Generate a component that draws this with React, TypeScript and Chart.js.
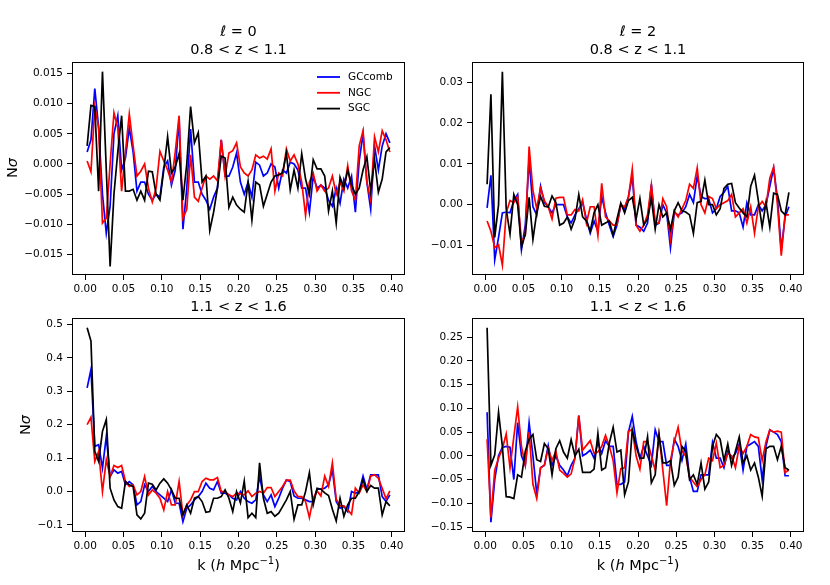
import { useEffect, useRef } from "react";
import { Chart, registerables } from "chart.js";

Chart.register(...registerables);

const W = 830;
const H = 585;
const FONT = "DejaVu Sans";

// k bins (h/Mpc)
const k = [
  0.0025, 0.0075, 0.0125, 0.0175, 0.0225, 0.0275, 0.0325, 0.0375, 0.0425, 0.0475,
  0.0525, 0.0575, 0.0625, 0.0675, 0.0725, 0.0775, 0.0825, 0.0875, 0.0925, 0.0975,
  0.1025, 0.1075, 0.1125, 0.1175, 0.1225, 0.1275, 0.1325, 0.1375, 0.1425, 0.1475,
  0.1525, 0.1575, 0.1625, 0.1675, 0.1725, 0.1775, 0.1825, 0.1875, 0.1925, 0.1975,
  0.2025, 0.2075, 0.2125, 0.2175, 0.2225, 0.2275, 0.2325, 0.2375, 0.2425, 0.2475,
  0.2525, 0.2575, 0.2625, 0.2675, 0.2725, 0.2775, 0.2825, 0.2875, 0.2925, 0.2975,
  0.3025, 0.3075, 0.3125, 0.3175, 0.3225, 0.3275, 0.3325, 0.3375, 0.3425, 0.3475,
  0.3525, 0.3575, 0.3625, 0.3675, 0.3725, 0.3775, 0.3825, 0.3875, 0.3925, 0.3975,
];
const kTicks = [0, 0.05, 0.1, 0.15, 0.2, 0.25, 0.3, 0.35, 0.4];

const seriesNames = ["GCcomb", "NGC", "SGC"];
const seriesColors = ["#0000ff", "#ff0000", "#000000"];

// l = 0, 0.8 < z < 1.1
const l0LowGC = [
  0.002, 0.004, 0.0125, 0.006, -0.005, -0.0115, -0.007, 0.005, 0.008, -0.001,
  0.001, 0.006, 0.002, -0.0045, -0.003, -0.003, -0.005, -0.006, -0.005, -0.0055,
  -0.0005, 0.0005, -0.0035, -0.001, 0.0075, -0.0108, -0.004, 0.0058, -0.003, -0.003,
  -0.005, -0.006, -0.0075, -0.0055, -0.004, 0.004, -0.002, -0.002, -0.0005, 0.0018,
  -0.003, -0.005, -0.003, -0.0055, 0.0003, -0.0002, -0.002, -0.0015, 0.0, -0.0005,
  -0.004, -0.001, -0.0015, 0.0003, 0.0, -0.001, -0.004, -0.004, -0.008, -0.002,
  -0.004, -0.0035, -0.004, -0.006, -0.007, -0.004, -0.0065, -0.0025, -0.004, -0.002,
  -0.008, 0.0005, 0.005, -0.003, -0.0075, 0.003, -0.001, 0.003, 0.005, 0.0035,
];
const l0LowNGC = [
  0.0005, -0.0013, 0.0095, 0.006, -0.0098, -0.009, 0.0, 0.0085, 0.006, -0.0045,
  0.002, 0.0083, 0.003, -0.002, -0.0012, 0.0, -0.004, -0.0063, -0.004, 0.0021,
  0.0005, -0.001, -0.003, 0.002, 0.008, -0.009, -0.0075, 0.0015, -0.0055, -0.0062,
  -0.004, -0.002, -0.0025, -0.002, -0.0028, 0.004, -0.002, 0.0018, 0.0022, 0.0035,
  -0.0005, -0.0015, -0.002, -0.001, 0.0015, 0.001, 0.0013, 0.0008, 0.0025, -0.0045,
  -0.0015, -0.002, 0.0025, 0.0005, 0.0015, 0.0, -0.003, -0.0085, -0.003, -0.0015,
  -0.0045, -0.0035, -0.0045, -0.004, -0.002, -0.005, -0.003, -0.0045, -0.0003, -0.0045,
  -0.006, 0.003, 0.0055, -0.003, -0.006, 0.0045, 0.002, 0.0055, 0.004, 0.002,
];
const l0LowSGC = [
  0.003, 0.0097, 0.0095, -0.0045, 0.0153, -0.001, -0.017, -0.005, 0.002, 0.008,
  -0.0045, -0.0045, -0.0042, -0.006, -0.0045, -0.006, -0.0012, -0.0013, -0.005, -0.006,
  -0.001, 0.0045, -0.0015, -0.0005, 0.0017, -0.006, 0.0, 0.0095, 0.0035, 0.0052,
  -0.003, -0.002, -0.011, -0.008, -0.004, 0.0013, 0.001, -0.0072, -0.0055, -0.0068,
  -0.0075, -0.008, -0.003, -0.0093, -0.003, -0.0035, -0.007, -0.005, -0.003, -0.002,
  -0.0018, -0.0015, 0.0018, -0.0043, -0.001, -0.004, 0.0017, -0.0025, -0.005, 0.0007,
  -0.0008, -0.0008, -0.002, -0.0078, -0.0045, -0.0098, -0.0022, -0.004, -0.001, -0.0035,
  -0.005, -0.004, -0.001, 0.0012, -0.0045, 0.0007, -0.0047, -0.0025, 0.002, 0.0027,
];

// l = 2, 0.8 < z < 1.1
const l2LowGC = [
  -0.0008, 0.0072, -0.0135, -0.008, -0.002, -0.0018, -0.002, 0.001, 0.0025, -0.011,
  -0.005, 0.011, -0.0005, -0.0025, 0.0045, 0.0005, -0.0005, -0.002, 0.0, 0.0,
  0.0, -0.003, -0.0045, -0.0025, -0.001, 0.0005, -0.0035, -0.007, -0.004, -0.0065,
  0.002, -0.002, -0.005, -0.0078, -0.005, 0.0, -0.001, 0.002, 0.007, -0.005,
  -0.0055, -0.0065, -0.0045, 0.005, -0.005, -0.0045, 0.0, -0.002, -0.0105, -0.002,
  -0.0025, -0.002, -0.0005, 0.0025, 0.0005, 0.007, 0.002, 0.0015, 0.0015, -0.002,
  -0.001, 0.002, 0.003, 0.0045, -0.0015, -0.0015, -0.002, -0.0055, 0.0005, -0.0025,
  -0.0025, 0.0, -0.0015, 0.0, 0.0045, 0.009, 0.0015, -0.011, -0.003, -0.0005,
];
const l2LowNGC = [
  -0.004, -0.0065, -0.0105, -0.0098, -0.0148, -0.002, 0.001, 0.0005, 0.002, -0.009,
  -0.0075, 0.0142, 0.0035, -0.001, 0.004, 0.001, -0.0005, -0.0035, 0.0016, 0.0018,
  0.0018, -0.0025, -0.0025, -0.0012, -0.0015, 0.0012, -0.0045, -0.0005, -0.0005, -0.0075,
  0.0052, -0.003, -0.004, -0.005, -0.005, 0.0, -0.0005, 0.0018, 0.0087, -0.005,
  -0.0065, -0.005, -0.0025, 0.0048, -0.0045, -0.0045, 0.0015, -0.0005, -0.0085, -0.0015,
  -0.003, -0.001, 0.001, 0.005, 0.004, 0.009, 0.0, -0.002, 0.002, 0.0015,
  -0.001, 0.0, 0.0005, 0.001, 0.0025, -0.003, -0.002, -0.001, -0.0045, -0.0005,
  -0.007, -0.0005, 0.0008, -0.0005, 0.0065, 0.0092, 0.0, -0.0125, -0.0025, -0.0025,
];
const l2LowSGC = [
  0.005, 0.027, -0.008, 0.0, 0.0325, -0.001, -0.0072, 0.0025, 0.0, -0.0104,
  -0.0072, 0.0018, -0.0085, -0.0019, 0.002, -0.0004, -0.0006, 0.0021, 0.0005, -0.005,
  -0.0045, -0.003, -0.006, -0.0035, 0.0025, -0.003, -0.004, -0.0065, -0.002, 0.0,
  -0.005, -0.0045, -0.004, -0.0075, -0.0035, 0.0004, -0.002, 0.001, 0.0018, -0.0035,
  0.0015, -0.005, -0.0035, 0.0015, -0.006, 0.0, -0.003, -0.002, -0.006, -0.0015,
  0.0005, -0.0015, -0.0018, -0.0025, -0.007, 0.0005, 0.0008, 0.006, 0.0, 0.0,
  -0.0025, -0.001, 0.004, 0.005, 0.0052, 0.0005, -0.0008, -0.002, -0.003, 0.0045,
  0.0072, 0.001, -0.0055, 0.0005, -0.0055, 0.0028, 0.0025, -0.0015, -0.0025, 0.003,
];

// l = 0, 1.1 < z < 1.6
const l0HighGC = [
  0.31, 0.365, 0.135, 0.14, 0.07, 0.165, 0.045, 0.065, 0.055, 0.06,
  0.02, 0.03, 0.02, -0.04, -0.03, 0.02, 0.0, 0.015, 0.0, -0.01,
  -0.02, -0.03, 0.005, -0.035, -0.035, -0.09, -0.05, -0.04, -0.025, -0.015,
  0.0, 0.025, 0.01, 0.005, 0.03, -0.005, -0.005, -0.01, -0.02, -0.025,
  0.0, -0.02, -0.03, -0.035, -0.025, 0.045, -0.01, -0.03, -0.01, -0.045,
  -0.02, 0.01, 0.034, 0.03, -0.013, -0.02, -0.02, -0.025, -0.03, -0.03,
  0.007, 0.007, 0.01, 0.02, 0.065, -0.03, -0.05, -0.045, -0.06, 0.0,
  -0.005, 0.0, 0.046, 0.006, 0.05, 0.05, 0.05, -0.015, -0.03, -0.01,
];
const l0HighNGC = [
  0.2, 0.222, 0.09, 0.12, 0.0, 0.095, 0.045, 0.078, 0.072, 0.078,
  0.03, 0.015, 0.02, -0.01, 0.0, 0.045, -0.01, 0.005, -0.005, -0.02,
  -0.055, 0.0, -0.04, -0.04, 0.03, -0.07, -0.04, -0.025, 0.0, 0.0,
  0.03, 0.04, 0.035, 0.035, 0.042, 0.0, 0.0, -0.01, -0.015, -0.005,
  -0.007, -0.01, 0.002, -0.015, -0.005, 0.0, -0.005, 0.012, 0.012, -0.015,
  0.0, 0.015, 0.034, 0.034, 0.002, -0.015, -0.015, -0.03, -0.078, -0.02,
  0.002, -0.013, 0.046, 0.016, 0.086, -0.023, -0.043, -0.043, -0.055, -0.068,
  0.01, -0.005, 0.02, 0.0, 0.046, 0.05, 0.04, 0.01, -0.022, 0.002,
];
const l0HighSGC = [
  0.49, 0.45, 0.12, 0.09, 0.18, 0.215, 0.01, -0.025, -0.045, -0.05,
  0.03, 0.02, 0.015, -0.07, -0.082, -0.065, 0.025, 0.022, 0.005, 0.025,
  0.038, 0.025, 0.005, -0.02, -0.02, -0.07, -0.04, -0.065, -0.02, -0.015,
  -0.03, -0.062, -0.06, -0.02, -0.02, -0.015, 0.005, -0.02, -0.06, 0.0,
  -0.034, 0.031, -0.078, -0.065, -0.078, 0.086, -0.02, -0.065, -0.06, -0.074,
  -0.065, -0.045, -0.025, 0.0, -0.083, -0.04, -0.04, 0.0, 0.056, -0.04,
  0.01, 0.007, -0.004, -0.012, -0.053, -0.088, -0.02, -0.074, -0.04, -0.02,
  -0.02, 0.0, 0.035, 0.0, 0.018, 0.01, 0.01, -0.07, -0.03, -0.043,
];

// l = 2, 1.1 < z < 1.6
const l2HighGC = [
  0.092, -0.14, -0.05, 0.0, 0.018, 0.02, 0.018, -0.05, 0.07, 0.0,
  -0.02, 0.07, 0.0, -0.08, -0.025, -0.02, 0.022, -0.02, 0.0, -0.02,
  -0.03, -0.042, -0.02, -0.005, 0.085, 0.0, 0.005, 0.012, -0.005, 0.028,
  0.005, 0.032, 0.02, 0.02, -0.06, -0.06, -0.055, 0.05, 0.083, 0.03,
  -0.005, 0.02, 0.0, -0.02, 0.055, 0.03, 0.03, -0.02, -0.02, 0.035,
  0.02, -0.01, 0.025, -0.045, -0.075, -0.075, -0.04, -0.04, -0.04, 0.028,
  -0.005, -0.005, -0.025, 0.01, -0.005, 0.005, 0.025, -0.03, 0.02, 0.025,
  0.03, 0.02, -0.05, 0.02, 0.055, 0.05, 0.045, 0.03, -0.042, -0.042,
];
const l2HighNGC = [
  0.035, -0.13, -0.03, -0.005, 0.015, 0.046, -0.025, 0.04, 0.103, 0.02,
  -0.02, 0.05, -0.06, -0.09, -0.025, -0.02, 0.015, -0.01, 0.01, -0.03,
  -0.037, -0.045, -0.038, -0.005, 0.085, 0.012, 0.022, 0.032, 0.005, 0.008,
  0.02, 0.043, 0.02, -0.01, -0.078, -0.027, -0.025, 0.052, 0.055, 0.0,
  -0.028, 0.03, 0.03, 0.0, -0.03, 0.045, -0.03, -0.105, -0.01, 0.03,
  0.06, 0.01, 0.0, -0.045, -0.055, -0.065, -0.05, -0.04, -0.005, -0.01,
  0.027, -0.025, -0.02, 0.005, 0.0, -0.025, 0.02, 0.005, 0.02, 0.045,
  0.04, 0.038, -0.01, 0.03, 0.055, 0.05, 0.052, 0.05, -0.035, -0.03,
];
const l2HighSGC = [
  0.27, -0.02, 0.002, 0.092, 0.02, -0.086, -0.087, -0.09, -0.04, -0.045,
  0.01, 0.035, 0.045, -0.008, -0.012, 0.026, 0.015, -0.04, 0.015, 0.032,
  0.008, -0.005, 0.034, 0.0, 0.014, -0.035, -0.035, -0.035, -0.028, 0.047,
  -0.03, -0.025, 0.027, 0.06, 0.008, 0.012, -0.082, -0.055, 0.055, 0.02,
  -0.005, -0.005, 0.04, -0.057, -0.04, 0.045, -0.015, -0.015, -0.01, -0.062,
  -0.045, 0.02, 0.01, -0.05, -0.04, -0.06, -0.015, -0.07, -0.055, 0.02,
  0.045, 0.035, -0.01, 0.025, -0.02, 0.01, 0.04, -0.015, 0.0, -0.03,
  -0.015, -0.045, -0.085, 0.015, 0.02, 0.02, -0.008, 0.02, -0.025, -0.03,
];

const l0LowTicks = [-0.015, -0.01, -0.005, 0, 0.005, 0.01, 0.015];
const l2LowTicks = [-0.01, 0, 0.01, 0.02, 0.03];
const l0HighTicks = [-0.1, 0, 0.1, 0.2, 0.3, 0.4, 0.5];
const l2HighTicks = [-0.15, -0.1, -0.05, 0, 0.05, 0.1, 0.15, 0.2, 0.25];

interface Panel {
  left: number;
  top: number;
  right: number;
  bottom: number;
  yMin: number;
  yMax: number;
  yTicks: number[];
  decimals: number;
  series: number[][];
  legend?: boolean;
}

const panels: Panel[] = [
  { left: 72, top: 62, right: 405, bottom: 275, yMin: -0.0184, yMax: 0.0169, yTicks: l0LowTicks, decimals: 3, series: [l0LowGC, l0LowNGC, l0LowSGC], legend: true },
  { left: 472, top: 62, right: 804, bottom: 275, yMin: -0.0172, yMax: 0.0349, yTicks: l2LowTicks, decimals: 2, series: [l2LowGC, l2LowNGC, l2LowSGC] },
  { left: 72, top: 318, right: 405, bottom: 532, yMin: -0.121, yMax: 0.519, yTicks: l0HighTicks, decimals: 1, series: [l0HighGC, l0HighNGC, l0HighSGC] },
  { left: 472, top: 318, right: 804, bottom: 532, yMin: -0.1605, yMax: 0.2905, yTicks: l2HighTicks, decimals: 2, series: [l2HighGC, l2HighNGC, l2HighSGC] },
];

const fmt = (v: number, d: number) => v.toFixed(d).replace("-", "\u2212");

const framePlugin = {
  id: "frame",
  afterDatasetsDraw(chart: any) {
    const { ctx, chartArea: a } = chart;
    ctx.save();
    ctx.strokeStyle = "#000";
    ctx.lineWidth = 1;
    ctx.strokeRect(a.left + 0.5, a.top + 0.5, a.right - a.left - 1, a.bottom - a.top - 1);
    ctx.restore();
  },
};

const legendPlugin = {
  id: "mplLegend",
  afterDatasetsDraw(chart: any) {
    const { ctx, chartArea: a } = chart;
    ctx.save();
    ctx.font = `10.5px "${FONT}"`;
    ctx.textBaseline = "middle";
    seriesNames.forEach((name, j) => {
      const y = a.top + 15 + j * 15.8;
      ctx.strokeStyle = seriesColors[j];
      ctx.lineWidth = 1.8;
      ctx.beginPath();
      ctx.moveTo(a.right - 88, y);
      ctx.lineTo(a.right - 65, y);
      ctx.stroke();
      ctx.fillStyle = "#000";
      ctx.fillText(name, a.right - 57, y);
    });
    ctx.restore();
  },
};

const Y_W = 60;
const X_H = 30;

function PanelChart({ p }: { p: Panel }) {
  const canvasRef = useRef<HTMLCanvasElement>(null);

  useEffect(() => {
    if (!canvasRef.current) return;
    const tickFont = { family: FONT, size: 10.5 };
    const chart = new Chart(canvasRef.current, {
      type: "line",
      data: {
        datasets: seriesNames.map((name, j) => ({
          label: name,
          data: k.map((x, i) => ({ x, y: p.series[j][i] })),
          borderColor: seriesColors[j],
          backgroundColor: seriesColors[j],
          borderWidth: 1.7,
          pointRadius: 0,
          tension: 0,
          fill: false,
          order: 2 - j,
        })),
      },
      options: {
        animation: false,
        responsive: false,
        events: [],
        layout: {
          padding: { left: p.left - Y_W, top: p.top, right: W - p.right, bottom: H - p.bottom - X_H },
        },
        plugins: { legend: { display: false }, tooltip: { enabled: false } },
        scales: {
          x: {
            type: "linear",
            min: -0.01725,
            max: 0.41725,
            afterBuildTicks: (s: any) => {
              s.ticks = kTicks.map((v) => ({ value: v }));
            },
            afterFit: (s: any) => {
              s.height = X_H;
              s.paddingLeft = 0;
              s.paddingRight = 0;
            },
            ticks: {
              callback: (v: any) => fmt(Number(v), 2),
              font: tickFont,
              color: "#000",
              padding: 3,
              maxRotation: 0,
              autoSkip: false,
            },
            grid: { drawOnChartArea: false, tickLength: 5, color: "#000" },
            border: { display: false },
          },
          y: {
            type: "linear",
            min: p.yMin,
            max: p.yMax,
            afterBuildTicks: (s: any) => {
              s.ticks = p.yTicks.map((v) => ({ value: v }));
            },
            afterFit: (s: any) => {
              s.width = Y_W;
              s.paddingTop = 0;
              s.paddingBottom = 0;
            },
            ticks: {
              callback: (v: any) => fmt(Number(v), p.decimals),
              font: tickFont,
              color: "#000",
              padding: 4,
              autoSkip: false,
            },
            grid: { drawOnChartArea: false, tickLength: 5, color: "#000" },
            border: { display: false },
          },
        },
      },
      plugins: p.legend ? [framePlugin, legendPlugin] : [framePlugin],
    });
    return () => chart.destroy();
  }, [p]);

  return (
    <canvas
      ref={canvasRef}
      width={W}
      height={H}
      style={{ position: "absolute", left: 0, top: 0, width: W, height: H }}
    />
  );
}

const textBase: React.CSSProperties = {
  position: "absolute",
  fontFamily: FONT,
  fontSize: 14.5,
  lineHeight: "18px",
  color: "#000",
  whiteSpace: "nowrap",
  transform: "translate(-50%, -50%)",
};

function Label({ x, y, children, rotate }: { x: number; y: number; children: any; rotate?: boolean }) {
  return (
    <div
      style={{
        ...textBase,
        left: x,
        top: y,
        transform: rotate ? "translate(-50%, -50%) rotate(-90deg)" : textBase.transform,
      }}
    >
      {children}
    </div>
  );
}

const xLabel = (
  <>
    k (<i>h</i> Mpc<sup style={{ fontSize: 10, verticalAlign: "baseline", position: "relative", top: -6 }}>{"\u22121"}</sup>)
  </>
);

export default function App() {
  useEffect(() => {
    document.body.style.margin = "0";
  }, []);

  return (
    <div style={{ position: "relative", width: W, height: H, background: "#fff", overflow: "hidden" }}>
      {panels.map((p, i) => (
        <PanelChart key={i} p={p} />
      ))}
      <Label x={238.5} y={31}>{"\u2113 = 0"}</Label>
      <Label x={238.5} y={49}>0.8 &lt; z &lt; 1.1</Label>
      <Label x={638} y={31}>{"\u2113 = 2"}</Label>
      <Label x={638} y={49}>0.8 &lt; z &lt; 1.1</Label>
      <Label x={238.5} y={306}>1.1 &lt; z &lt; 1.6</Label>
      <Label x={638} y={306}>1.1 &lt; z &lt; 1.6</Label>
      <Label x={238.5} y={566}>{xLabel}</Label>
      <Label x={638} y={566}>{xLabel}</Label>
      <Label x={12} y={168} rotate>
        N<i>σ</i>
      </Label>
      <Label x={25} y={425} rotate>
        N<i>σ</i>
      </Label>
    </div>
  );
}
